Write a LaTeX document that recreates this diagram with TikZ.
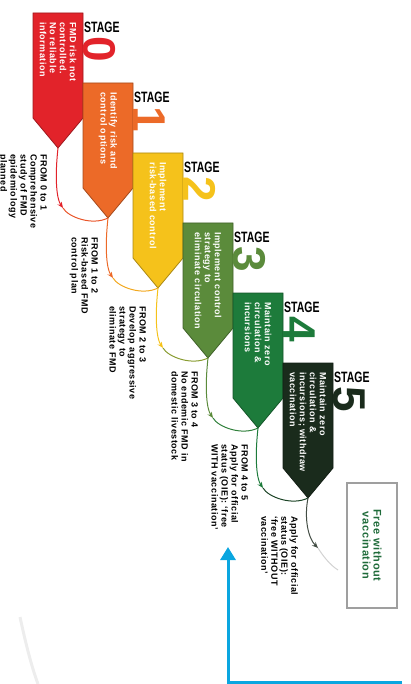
\documentclass[tikz,border=0pt]{standalone}
\usepackage{fontspec}
\setmainfont{Liberation Sans}
\newfontfamily\spacedfont[LetterSpace=6]{Liberation Sans}
\usetikzlibrary{arrows.meta,calc}

\definecolor{st0}{HTML}{E2232A}
\definecolor{st1}{HTML}{EC6A28}
\definecolor{st2}{HTML}{F5C21B}
\definecolor{st3}{HTML}{5B8B3B}
\definecolor{st4}{HTML}{1D7B3B}
\definecolor{st5}{HTML}{1A2B1C}
\definecolor{freegreen}{HTML}{1F6B3A}
\definecolor{linkblue}{HTML}{0AA6E0}

\begin{document}
\begin{tikzpicture}[x=1pt,y=-1pt,
	stepshape/.style={line width=0.8pt},
	stagelbl/.style={anchor=west,inner sep=0,xscale=0.7,font=\bfseries\fontsize{15}{15}\selectfont},
	stagenum/.style={anchor=base west,inner sep=0,rotate=-90,font=\bfseries\fontsize{46}{46}\selectfont},
	steptext/.style={anchor=west,inner sep=0,rotate=-90,align=left,text=white,font=\spacedfont\bfseries\fontsize{9}{10}\selectfont},
	fromtext/.style={anchor=north west,inner sep=0,rotate=-90,align=left,font=\spacedfont\bfseries\fontsize{9}{10}\selectfont},
	flow/.style={line width=1pt},
	flowtip/.style={-{Stealth[length=6pt,width=5pt]}}]
	\useasboundingbox (0,0) rectangle (411,684);
	% the six stages, each one step right and down
	\foreach \i in {0,...,5}{
		\begin{scope}[shift={(50*\i,70*\i)}]
			\filldraw[stepshape,fill=st\i,draw=st\i!70!black] (33,13) -- (83,13) -- (83,118) -- (58,148) -- (33,118) -- cycle;
			\coordinate (tip\i) at (58,148);
			\node[stagelbl] (stage\i) at (84,27) {STAGE};
			\node[stagenum,text=st\i] (num\i) at (83,36) {\i};
		\end{scope}
	}
	\foreach \i in {0,...,4}
		\coordinate (bend\i) at ($(tip\i)+(5,60)$);
	\coordinate (bend5) at ($(tip5)+(10,50)$);
	\coordinate (fade) at ($(tip5)+(30,72)$);
	\node[steptext] (txt0) at (58,22) {FMD risk not\\controlled.\\No reliable\\information};
	\node[steptext] (txt1) at (108,92) {Identify risk and\\control options};
	\node[steptext] (txt2) at (158,162) {Implement\\risk-based control};
	\node[steptext] (txt3) at (208,232) {Implement control\\strategy to\\eliminate circulation};
	\node[steptext] (txt4) at (258,302) {Maintain zero\\circulation \&\\incursions};
	\node[steptext] (txt5) at (308,372) {Maintain zero\\circulation \&\\incursions; withdraw\\vaccination};
	\node[fromtext] (from0) at (47,154) {FROM 0 to 1\\Comprehensive\\study of FMD\\epidemiology\\planned};
	\node[fromtext] (from1) at (98,237) {FROM 1 to 2\\Risk-based FMD\\control plan};
	\node[fromtext] (from2) at (146,306) {FROM 2 to 3\\Develop aggressive\\strategy to\\eliminate FMD};
	\node[fromtext] (from3) at (198,371) {FROM 3 to 4\\No endemic FMD in\\domestic livestock};
	\node[fromtext] (from4) at (248,444) {FROM 4 to 5\\Apply for official\\status (OIE): ‘free\\WITH vaccination’};
	\node[fromtext] (from5) at (298,516) {Apply for official\\status (OIE):\\‘free WITHOUT\\vaccination’};
	\node[draw=gray!75,line width=1.2pt,rotate=-90,minimum width=125pt,minimum height=50pt,align=center,text=freegreen,font=\spacedfont\bfseries\fontsize{11}{11}\selectfont] (free) at (372,545.5) {Free without\\vaccination};
	% links from one stage to the next
	\foreach \i/\j in {0/1,1/2,2/3,3/4,4/5}{
		\draw[flow,st\j!70!st\i] (bend\i) .. controls ($(bend\i)+(5,9)$) and ($(tip\j)+(-16,8)$) .. (tip\j);
		\draw[flow,flowtip,st\i] (tip\i) .. controls ($(tip\i)+(-3,27)$) and ($(tip\i)+(-2,50)$) .. (bend\i);
	}
	\draw[flow,gray!35] (bend5) .. controls ($(bend5)+(5,8)$) and ($(fade)+(-8,-5)$) .. (fade);
	\draw[flow,flowtip,st5!60!gray] (tip5) .. controls ($(tip5)+(-4,20)$) and ($(tip5)+(0,40)$) .. (bend5);
	\draw[line width=3pt,black!7] (20,617) .. controls (26,645) and (32,668) .. (38,684);
	\coordinate (bluestart) at (402,682);
	\coordinate (blueend) at (228,547);
	\draw[line width=3pt,linkblue,-{Triangle[length=13pt,width=15pt]}] (bluestart) -| (blueend);
\end{tikzpicture}
\end{document}
